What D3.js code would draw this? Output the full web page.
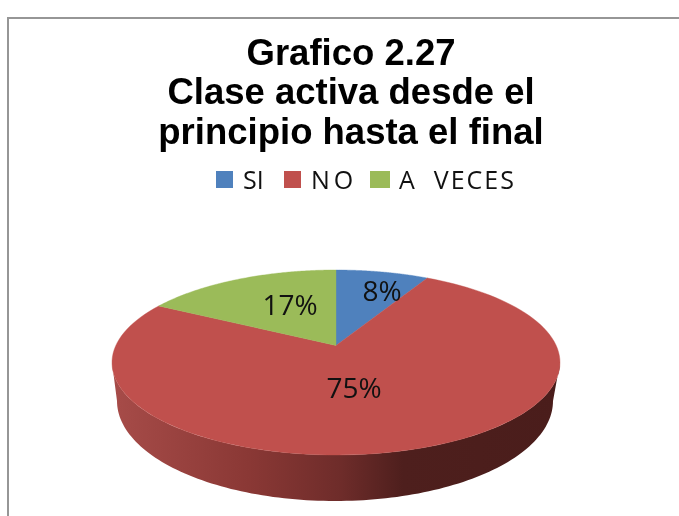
<!DOCTYPE html>
<html><head><meta charset="utf-8">
<script src="https://cdn.jsdelivr.net/npm/d3@7/dist/d3.min.js"></script>
<style>html,body{margin:0;padding:0;background:#fff}svg{display:block;filter:blur(0.35px)}</style>
</head><body><svg id="c" width="679" height="516"></svg>
<script>
const categories = ["SI", "NO", "A  VECES"];
const values = [8, 75, 17];
const labels = ["8%", "75%", "17%"];
const colors = ["#4f81bd", "#c0504d", "#9bbb59"];
const titleLines = ["Grafico 2.27", "Clase activa desde el", "principio hasta el final"];

const svg = d3.select("#c");
const W = 679, H = 516;
svg.append("path").attr("d", d3.line()([[8,H],[8,18],[W,18]]))
  .attr("fill","none").attr("stroke","#969696").attr("stroke-width",2);

const titleY = [65, 104, 144];
svg.selectAll("text.t").data(titleLines).join("text").attr("class","t")
  .attr("x",351).attr("y",(d,i)=>titleY[i]).attr("text-anchor","middle")
  .attr("font-family","'Liberation Sans',Arial,sans-serif").attr("font-weight",700)
  .attr("font-size",36.5).attr("fill","#000").text(d=>d);

const legSw = [[216,233],[284,301],[370,390]];
const legTx = [243,311,399];
const legLs = [0,4,2];
const lg = svg.append("g");
categories.forEach((c,i)=>{
  lg.append("rect").attr("x",legSw[i][0]).attr("y",171).attr("width",legSw[i][1]-legSw[i][0]).attr("height",17).attr("fill",colors[i]);
  lg.append("text").attr("x",legTx[i]).attr("y",189).attr("font-family","'Open Sans',sans-serif")
    .attr("font-size",25).attr("letter-spacing",legLs[i]).attr("fill","#111").style("white-space","pre").text(c);
});

const A = 0.184;
const sx = d3.scaleLinear().domain([-1,1]).range([112,560]);
const sy = d3.scaleLinear().domain([-1,1]).range([455,270]);
const sxB = d3.scaleLinear().domain([-1,1]).range([117,553]);
const syB = d3.scaleLinear().domain([-1,1]).range([501,301]);
const proj = (a,r=1)=>{
  const u=r*Math.sin(a), v=r*Math.cos(a), k=1+A*v;
  return [u*Math.sqrt(1-A*A)/k,(v+A)/k];
};
const pie = d3.pie().sort(null).value(d=>d)(values);
const line = d3.line();
const range = (a0,a1)=>d3.range(0,121).map(i=>a0+(a1-a0)*i/120);

const defs = svg.append("defs");
const g = defs.append("linearGradient").attr("id","rim").attr("gradientUnits","userSpaceOnUse")
  .attr("x1",117).attr("x2",557).attr("y1",0).attr("y2",0);
[[0,"#a64b48"],[0.3,"#8a3835"],[0.51,"#6e2c2a"],[0.65,"#4e1f1d"],[1,"#4a1d1b"]]
  .forEach(s=>g.append("stop").attr("offset",s[0]).attr("stop-color",s[1]));

const lo = d3.range(0,121).map(i=>Math.PI/2+Math.PI*i/120);
const topEdge = lo.map(a=>[sx(Math.sin(a)),sy(Math.cos(a))]);
const botEdge = lo.map(a=>[sxB(Math.sin(a)),syB(Math.cos(a))]).reverse();
svg.append("path").attr("d",line(topEdge.concat(botEdge))+"Z").attr("fill","url(#rim)");

const apex = proj(0,0);
pie.forEach((s,i)=>{
  const pts=[apex,...range(s.startAngle,s.endAngle).map(a=>proj(a))].map(p=>[sx(p[0]),sy(p[1])]);
  svg.append("path").attr("d",line(pts)+"Z").attr("fill",colors[i]).attr("stroke",colors[i]).attr("stroke-width",0.4);
});

const labX = [382, 354, 290];
const labY = [301, 398, 315];
labels.forEach((t,i)=>{
  svg.append("text").attr("x",labX[i]).attr("y",labY[i]).attr("text-anchor","middle")
   .attr("font-family","'Open Sans',sans-serif").attr("font-size",28).attr("fill","#111").text(t);
});
</script></body></html>
